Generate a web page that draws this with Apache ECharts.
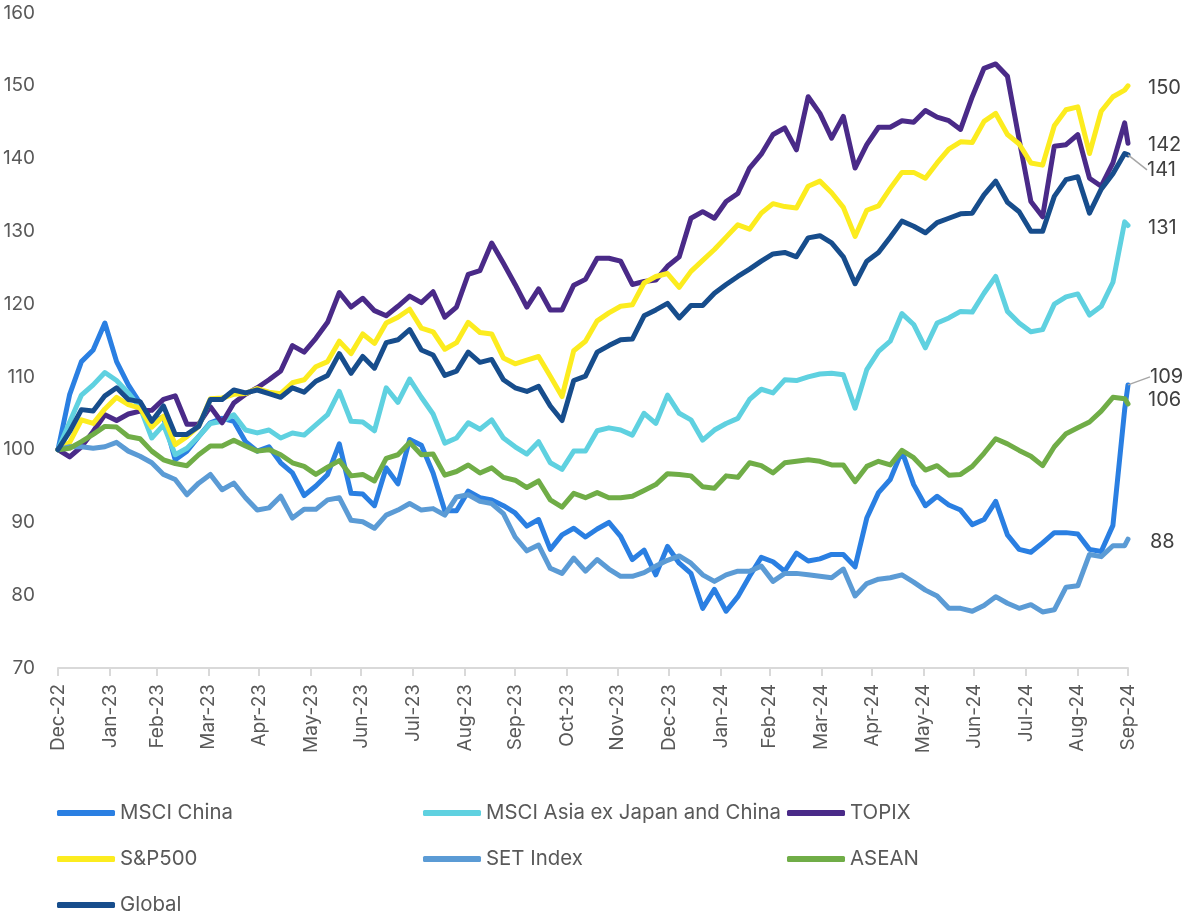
<!DOCTYPE html>
<html>
<head>
<meta charset="utf-8">
<script src="https://cdn.jsdelivr.net/npm/echarts@6/dist/echarts.min.js"></script>
<style>
  html, body { margin: 0; padding: 0; background: #fff; }
  #chart { width: 1188px; height: 918px; }
</style>
</head>
<body>
<div id="chart"></div>
<script>
// Month-end tick labels along the date axis
const tickLabels = ['Dec-22','Jan-23','Feb-23','Mar-23','Apr-23','May-23','Jun-23','Jul-23','Aug-23','Sep-23','Oct-23','Nov-23',
  'Dec-23','Jan-24','Feb-24','Mar-24','Apr-24','May-24','Jun-24','Jul-24','Aug-24','Sep-24'];

// Weekly observations from 31 Dec 2022, plus the final 30 Sep 2024 close
const firstDate = '2022-12-31';
const weeklyCount = 92;
const lastDate = '2024-09-30';

const seriesNames = ['MSCI China', 'MSCI Asia ex Japan and China', 'TOPIX', 'S&P500', 'SET Index', 'ASEAN', 'Global'];
const seriesColors = ['#2a7fe2', '#5fd1e0', '#4a2a88', '#fcec1f', '#5b9bd5', '#70ad47', '#174d8c'];

// Rebased index levels (31 Dec 2022 = 100)
const msciChina = [100,107.6,112.1,113.7,117.4,112.1,108.9,106.4,103.9,104.5,
  98.6,99.8,101.8,103.7,104.3,103.9,101.1,99.8,100.4,98.2,
  96.8,93.7,95.0,96.6,100.8,94.0,93.9,92.3,97.5,95.3,
  101.4,100.6,96.8,91.6,91.6,94.3,93.4,93.1,92.3,91.3,
  89.5,90.4,86.3,88.3,89.2,88.0,89.1,90.0,88.1,84.9,
  86.2,82.8,86.7,84.4,83.0,78.2,80.8,77.8,79.8,82.6,
  85.2,84.6,83.3,85.8,84.7,85.0,85.6,85.6,83.9,90.6,
  94.1,95.9,99.8,95.2,92.3,93.6,92.4,91.7,89.7,90.4,
  92.9,88.3,86.3,85.9,87.2,88.6,88.6,88.4,86.3,86.0,
  89.6,105.5,108.9];

const msciAsiaExJpCn = [100,103.8,107.5,108.9,110.6,109.5,107.8,105.8,101.6,103.4,
  99.3,100.2,101.8,103.6,103.9,104.8,102.7,102.3,102.7,101.6,
  102.3,102.0,103.4,104.8,108.0,103.9,103.8,102.6,108.5,106.5,
  109.7,107.2,104.9,100.9,101.6,103.7,102.8,104.1,101.6,100.4,
  99.4,101.1,98.2,97.3,99.8,99.8,102.6,103.0,102.7,102.0,
  105.0,103.6,107.5,105.0,104.1,101.3,102.7,103.6,104.3,106.9,
  108.3,107.8,109.6,109.5,110.0,110.4,110.5,110.3,105.7,111.0,
  113.5,114.9,118.7,117.2,114.0,117.4,118.1,119.0,118.9,121.5,
  123.8,119.0,117.4,116.2,116.5,120.0,121.0,121.4,118.5,119.7,
  123.0,131.3,130.8];

const topix = [100,99.0,100.4,102.5,104.8,104.0,104.9,105.3,105.4,106.9,
  107.4,103.5,103.5,105.9,103.7,106.4,107.6,108.5,109.6,110.8,
  114.3,113.4,115.3,117.5,121.6,119.6,120.8,119.1,118.4,119.7,
  121.1,120.2,121.7,118.2,119.6,124.1,124.6,128.4,125.6,122.7,
  119.6,122.1,119.2,119.2,122.6,123.4,126.3,126.3,125.9,122.7,
  123.1,123.3,125.2,126.5,131.8,132.7,131.8,134.1,135.2,138.7,
  140.6,143.3,144.2,141.2,148.5,146.2,142.8,145.8,138.7,141.9,
  144.3,144.3,145.2,145.0,146.6,145.7,145.2,144.0,148.5,152.4,
  153.0,151.3,142.6,134.1,132.0,141.7,141.9,143.3,137.3,136.2,
  139.4,144.9,142.1];

const sp500 = [100,101.0,104.1,103.6,105.6,107.2,106.2,105.7,103.1,104.6,
  100.7,101.8,103.2,107.0,107.1,107.6,107.7,108.4,107.9,107.7,
  109.2,109.6,111.4,112.1,114.9,113.2,115.9,114.6,117.4,118.2,
  119.3,116.7,116.2,113.8,114.7,117.5,116.1,115.9,112.6,111.8,
  112.3,112.8,110.1,107.3,113.6,114.9,117.7,118.8,119.7,119.9,
  122.9,123.8,124.2,122.3,124.5,126.0,127.5,129.2,130.9,130.3,
  132.5,133.8,133.4,133.2,136.2,136.9,135.3,133.3,129.3,132.9,
  133.5,135.9,138.1,138.1,137.3,139.4,141.3,142.3,142.2,145.1,
  146.2,143.3,142.0,139.4,139.1,144.5,146.7,147.1,140.7,146.5,
  148.5,149.4,150.0];

const setIndex = [100,100.4,100.4,100.2,100.4,101.0,99.8,99.1,98.2,96.6,
  95.9,93.8,95.4,96.6,94.5,95.4,93.4,91.7,92.0,93.6,
  90.6,91.8,91.8,93.1,93.4,90.3,90.1,89.2,91.0,91.7,
  92.6,91.7,91.9,91.0,93.5,93.8,92.9,92.6,91.2,88.0,
  86.1,86.9,83.7,83.0,85.1,83.3,84.9,83.6,82.6,82.6,
  83.1,84.0,84.8,85.4,84.4,82.8,81.9,82.8,83.3,83.3,
  84.0,81.9,83.0,83.0,82.8,82.6,82.4,83.6,79.9,81.6,
  82.2,82.4,82.8,81.8,80.7,79.9,78.2,78.2,77.8,78.6,
  79.8,78.9,78.2,78.7,77.7,78.0,81.1,81.3,85.6,85.3,
  86.8,86.8,87.7];

const asean = [100,100.2,101.1,102.1,103.2,103.1,101.8,101.5,99.8,98.6,
  98.1,97.8,99.3,100.5,100.5,101.3,100.5,99.8,100.0,99.3,
  98.2,97.7,96.6,97.6,98.5,96.4,96.6,95.7,98.8,99.3,
  101.0,99.3,99.4,96.5,97.0,97.9,96.8,97.5,96.2,95.8,
  94.8,95.7,93.1,92.1,94.0,93.4,94.1,93.4,93.4,93.6,
  94.4,95.2,96.7,96.6,96.4,94.9,94.7,96.4,96.2,98.2,
  97.8,96.8,98.2,98.4,98.6,98.4,97.9,97.9,95.6,97.7,
  98.4,97.9,99.9,98.9,97.2,97.8,96.5,96.6,97.7,99.5,
  101.5,100.8,99.9,99.1,97.8,100.4,102.2,103.0,103.8,105.3,
  107.2,107.0,106.3];

const globalIdx = [100,102.5,105.5,105.3,107.4,108.5,106.9,106.6,103.9,106.0,
  102.1,102.1,103.2,106.9,106.9,108.2,107.8,108.2,107.7,107.2,
  108.5,107.9,109.4,110.2,113.2,110.5,112.8,111.2,114.7,115.1,
  116.5,113.7,113.0,110.2,110.8,113.4,112.0,112.4,109.6,108.5,
  108.0,108.7,106.0,104.0,109.5,110.1,113.4,114.3,115.1,115.2,
  118.4,119.2,120.1,118.1,119.8,119.8,121.5,122.7,123.8,124.8,
  125.9,126.9,127.1,126.5,129.1,129.4,128.4,126.5,122.8,125.9,
  127.1,129.2,131.4,130.7,129.8,131.2,131.8,132.4,132.5,135.0,
  136.9,134.0,132.7,130.0,130.0,134.8,137.1,137.5,132.5,135.8,
  137.9,140.7,140.5];

const seriesValues = [msciChina, msciAsiaExJpCn, topix, sp500, setIndex, asean, globalIdx];

// ---- date helpers (day numbers, UTC) ----
const DAY = 86400000;
const MONTHS = ['Jan','Feb','Mar','Apr','May','Jun','Jul','Aug','Sep','Oct','Nov','Dec'];
function dayNum(iso) {
  const [y, m, d] = iso.split('-').map(Number);
  return Date.UTC(y, m - 1, d) / DAY;
}
function monthEnd(label) {
  const [mon, yy] = label.split('-');
  return Date.UTC(2000 + Number(yy), MONTHS.indexOf(mon) + 1, 0) / DAY;
}
const tickDays = tickLabels.map(monthEnd);
const labelByDay = {};
tickDays.forEach((d, k) => { labelByDay[d] = tickLabels[k]; });

const dates = [];
const d0 = dayNum(firstDate);
for (let k = 0; k < weeklyCount; k++) dates.push(d0 + 7 * k);
dates.push(dayNum(lastDate));

// End-of-series value labels; two of them sit off the line end with a leader
const FONT = 'Inter, "Noto Sans", sans-serif';
const leader = {
  'Global': { dx: 14, dy: 15 },
  'MSCI China': { dx: 17, dy: -8 }
};
const endOffsets = {
  'S&P500': [0, 2], 'TOPIX': [0, 2], 'MSCI Asia ex Japan and China': [0, 2],
  'ASEAN': [0, -4], 'SET Index': [2, 3]
};
const valueText = (p) => String(Math.round(p.value[1]));

const series = seriesNames.map((name, s) => {
  const vals = seriesValues[s];
  const last = vals.length - 1;
  const data = vals.map((v, k) => [dates[k], v]);
  const base = {
    name, type: 'line', data, symbol: 'none', showSymbol: false, z: 2 + s,
    lineStyle: { color: seriesColors[s], width: 5, cap: 'round', join: 'round' },
    itemStyle: { color: seriesColors[s] },
    emphasis: { disabled: true }
  };
  if (leader[name]) {
    // invisible markers so the last point can carry a moved label with a guide line
    base.symbol = 'circle';
    base.symbolSize = 0;
    base.showSymbol = true;
    base.label = { show: false };
    data[last] = {
      value: [dates[last], vals[last]],
      label: {
        show: true, position: 'right', distance: 5,
        formatter: valueText,
        color: '#404040', fontSize: 20, fontFamily: FONT
      }
    };
    base.labelLayout = { dx: leader[name].dx, dy: leader[name].dy };
    base.labelLine = { show: true, lineStyle: { color: '#a6a6a6', width: 1.5 } };
  } else {
    base.endLabel = {
      show: true, distance: 20, offset: endOffsets[name] || [0, 0],
      formatter: valueText,
      color: '#404040', fontSize: 20, fontFamily: FONT
    };
  }
  return base;
});

const legendText = { color: '#595959', fontSize: 20.4, fontFamily: FONT, lineHeight: 20 };
function legendColumn(names, left) {
  return {
    data: names, orient: 'vertical', left, top: 803, height: 115, itemGap: 26,
    itemWidth: 58, itemHeight: 6, icon: 'roundRect', selectedMode: false,
    textStyle: legendText, padding: 0
  };
}

const chart = echarts.init(document.getElementById('chart'), null, { renderer: 'canvas' });
chart.setOption({
  animation: false,
  backgroundColor: '#ffffff',
  grid: { left: 56, right: 60, top: 13, bottom: 250 },
  xAxis: {
    type: 'value',
    min: tickDays[0], max: tickDays[tickDays.length - 1],
    axisLine: { show: true, lineStyle: { color: '#d9d9d9', width: 2 } },
    axisTick: { show: true, customValues: tickDays, length: 8, lineStyle: { color: '#d9d9d9', width: 2 } },
    axisLabel: {
      customValues: tickDays, rotate: 90, margin: 16,
      color: '#595959', fontSize: 19, fontFamily: FONT,
      formatter: (v) => labelByDay[v] || ''
    },
    splitLine: { show: false }
  },
  yAxis: {
    type: 'value', min: 70, max: 160, interval: 10,
    axisLine: { show: false }, axisTick: { show: false },
    axisLabel: { color: '#595959', fontSize: 19, fontFamily: FONT, margin: 23 },
    splitLine: { show: false }
  },
  legend: [
    legendColumn(['MSCI China', 'S&P500', 'Global'], 57),
    legendColumn(['MSCI Asia ex Japan and China', 'SET Index'], 423),
    legendColumn(['TOPIX', 'ASEAN'], 787)
  ],
  series
});
</script>
</body>
</html>
